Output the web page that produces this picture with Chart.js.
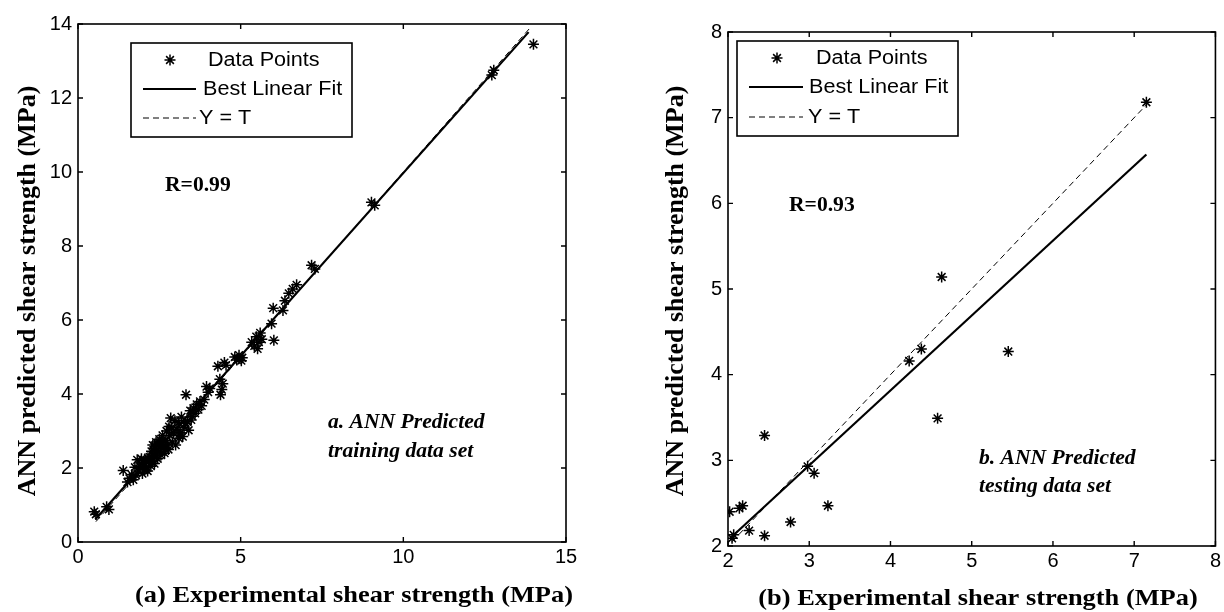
<!DOCTYPE html>
<html>
<head>
<meta charset="utf-8">
<title>ANN predicted vs experimental shear strength</title>
<script src="https://cdn.jsdelivr.net/npm/chart.js@4.4.1/dist/chart.umd.min.js"></script>
<style>
  html, body { margin: 0; padding: 0; background: #fff; }
  #wrap { position: relative; width: 1224px; height: 612px; }
  canvas { position: absolute; top: 0; }
  #chartA { left: 0; }
  #chartB { left: 612px; }
</style>
</head>
<body>
<div id="wrap">
  <canvas id="chartA" width="612" height="612"></canvas>
  <canvas id="chartB" width="612" height="612"></canvas>
</div>
<script>
// (a) training set: experimental vs ANN predicted shear strength (MPa)
const trainExp = [0.50,0.55,0.88,0.95,1.39,1.52,1.58,1.65,1.70,1.78,
  1.82,1.86,1.90,1.95,1.98,2.02,2.05,2.08,2.10,2.14,
  2.18,2.20,2.24,2.26,2.28,2.30,2.33,2.35,2.38,2.40,
  2.42,2.45,2.48,2.50,2.52,2.55,2.58,2.60,2.63,2.66,
  2.70,2.72,2.75,2.78,2.82,2.85,2.88,2.90,2.94,2.98,
  3.00,3.04,3.08,3.10,3.14,3.18,3.22,3.26,3.32,3.36,
  3.40,3.45,3.50,3.55,3.60,3.65,3.70,3.75,3.80,3.88,
  3.95,4.00,4.05,4.30,4.36,4.38,4.42,4.45,4.50,4.55,
  4.82,4.88,4.95,5.02,5.05,5.34,5.42,5.48,5.52,5.56,
  5.60,5.65,5.95,6.00,6.02,6.30,6.36,6.48,6.60,6.72,
  7.18,7.28,9.02,9.12,12.72,12.78,14.00,
  1.75,2.00,2.15,2.36,2.56,2.68,2.80,3.12,3.30,3.48];
const trainAnn = [0.82,0.75,0.95,0.88,1.93,1.62,1.72,1.82,1.68,1.80,
  2.22,1.92,2.05,2.25,1.85,2.12,1.95,2.20,2.02,1.92,
  2.15,2.30,2.05,2.45,2.18,2.62,2.30,2.12,2.52,2.70,
  2.38,2.25,2.60,2.78,2.45,2.35,2.68,2.88,2.55,2.40,
  2.75,3.00,2.62,2.50,2.88,3.35,3.10,2.70,2.95,3.28,
  2.62,3.05,3.22,2.80,2.95,3.38,2.85,3.10,3.98,3.25,
  3.02,3.55,3.40,3.62,3.48,3.72,3.58,3.80,3.68,3.85,
  4.20,4.05,4.15,4.75,4.40,3.98,4.12,4.28,4.85,4.78,
  5.00,4.92,5.05,4.90,4.98,5.40,5.30,5.55,5.22,5.40,
  5.65,5.48,5.90,6.32,5.45,6.26,6.52,6.72,6.84,6.95,
  7.48,7.38,9.18,9.10,12.62,12.75,13.45,
  2.02,2.15,2.28,2.58,2.72,2.50,3.12,2.92,3.20,3.30];
const trainFitX = [0.53, 13.85];
const trainFitY = [0.61, 13.78];
const trainIdealX = [0.55, 13.90];
const trainIdealY = [0.55, 13.90];
const trainXTicks = [0, 5, 10, 15];
const trainYTicks = [0, 2, 4, 6, 8, 10, 12, 14];

// (b) testing set
const testExp = [2.02,2.05,2.07,2.14,2.18,2.26,2.45,2.45,2.77,2.98,3.06,3.23,4.23,4.38,4.58,4.63,5.45,7.15];
const testAnn = [2.40,2.09,2.13,2.44,2.47,2.18,3.29,2.12,2.28,2.93,2.85,2.47,4.16,4.30,3.49,5.14,4.27,7.18];
const testFitX = [2.06, 7.15];
const testFitY = [2.12, 6.57];
const testIdealX = [2.05, 7.15];
const testIdealY = [2.05, 7.15];
const testTicks = [2, 3, 4, 5, 6, 7, 8];

const SANS = "'Liberation Sans', Arial, sans-serif";
const SERIF = "'Liberation Serif', 'Times New Roman', serif";

function pairs(xs, ys) {
    return xs.map((x, i) => ({ x, y: ys[i] }));
}

function starAt(ctx, x, y, r) {
    const opts = { pointStyle: "star", radius: r, rotation: 0, borderWidth: 1.5 };
    if (Chart.helpers && Chart.helpers.drawPoint) {
        Chart.helpers.drawPoint(ctx, opts, x, y);
        return;
    }
    ctx.beginPath();
    for (let k = 0; k < 4; k++) {
        const a = k * Math.PI / 4;
        ctx.moveTo(x - r * Math.cos(a), y - r * Math.sin(a));
        ctx.lineTo(x + r * Math.cos(a), y + r * Math.sin(a));
    }
    ctx.stroke();
}

// text drawn slightly wider than the font, like the exported figure
function wideText(ctx, str, x, y, font, sx, align) {
    ctx.save();
    ctx.font = font;
    ctx.translate(x, y);
    ctx.scale(sx, 1);
    ctx.textAlign = align || "left";
    ctx.textBaseline = "middle";
    ctx.fillText(str, 0, 0);
    ctx.restore();
}

// box, inner ticks on all four sides, legend and labels
const framePlugin = {
    id: "frame",
    afterDatasetsDraw(chart, args, o) {
        const { ctx, chartArea: a, scales } = chart;
        ctx.save();
        ctx.strokeStyle = "#000";
        ctx.lineWidth = 1.6;
        ctx.strokeRect(a.left, a.top, a.right - a.left, a.bottom - a.top);
        ctx.lineWidth = 1.4;
        ctx.beginPath();
        scales.x.ticks.forEach(t => {
            const px = scales.x.getPixelForValue(t.value);
            ctx.moveTo(px, a.bottom); ctx.lineTo(px, a.bottom - 5);
            ctx.moveTo(px, a.top); ctx.lineTo(px, a.top + 5);
        });
        scales.y.ticks.forEach(t => {
            const py = scales.y.getPixelForValue(t.value);
            ctx.moveTo(a.left, py); ctx.lineTo(a.left + 5, py);
            ctx.moveTo(a.right, py); ctx.lineTo(a.right - 5, py);
        });
        ctx.stroke();
        ctx.restore();
    },
    afterDraw(chart, args, o) {
        const ctx = chart.ctx;
        const L = o.legend;
        ctx.save();
        ctx.fillStyle = "#fff";
        ctx.fillRect(L.x, L.y, L.w, L.h);
        ctx.strokeStyle = "#000";
        ctx.lineWidth = 1.6;
        ctx.strokeRect(L.x, L.y, L.w, L.h);

        ctx.fillStyle = "#000";
        ctx.lineWidth = 1.5;
        starAt(ctx, L.markX, L.row1, 5.5);
        ctx.lineWidth = 2.2;
        ctx.beginPath();
        ctx.moveTo(L.lineX0, L.row2); ctx.lineTo(L.lineX1, L.row2);
        ctx.stroke();
        ctx.lineWidth = 1;
        ctx.setLineDash([6, 4]);
        ctx.beginPath();
        ctx.moveTo(L.lineX0, L.row3); ctx.lineTo(L.lineX1, L.row3);
        ctx.stroke();
        ctx.setLineDash([]);

        const lf = "20px " + SANS;
        wideText(ctx, "Data Points", L.text1, L.row1, lf, 1.08);
        wideText(ctx, "Best Linear Fit", L.text2, L.row2, lf, 1.08);
        wideText(ctx, "Y = T", L.text3, L.row3, lf, 1.08);

        o.notes.forEach(n => wideText(ctx, n.text, n.x, n.y, n.font, 1.08, n.align));

        // axis titles
        wideText(ctx, o.xTitle.text, o.xTitle.x, o.xTitle.y, "bold 24px " + SERIF, 1.1, "center");
        ctx.save();
        ctx.translate(o.yTitle.x, o.yTitle.y);
        ctx.rotate(-Math.PI / 2);
        ctx.font = "bold 26px " + SERIF;
        ctx.textAlign = "center";
        ctx.textBaseline = "middle";
        ctx.fillText(o.yTitle.text, 0, 0);
        ctx.restore();
        ctx.restore();
    }
};

function axis(min, max, ticks, fitSize, pad) {
    return {
        type: "linear",
        min, max,
        afterBuildTicks: s => { s.ticks = ticks.map(v => ({ value: v })); },
        afterFit: s => {
            if (s.isHorizontal()) s.height = fitSize; else s.width = fitSize;
        },
        grid: { display: false, drawTicks: false },
        border: { display: false },
        ticks: {
            color: "#000",
            padding: pad,
            autoSkip: false,
            maxRotation: 0,
            font: { family: SANS, size: 20 }
        }
    };
}

function buildChart(id, d) {
    return new Chart(document.getElementById(id), {
        type: "scatter",
        data: {
            datasets: [
                {
                    label: "Data Points",
                    data: pairs(d.xs, d.ys),
                    pointStyle: "star",
                    pointRadius: 5.5,
                    pointBorderWidth: 1.5,
                    borderColor: "#000",
                    backgroundColor: "#000",
                    showLine: false
                },
                {
                    label: "Best Linear Fit",
                    data: pairs(d.fitX, d.fitY),
                    showLine: true,
                    borderColor: "#000",
                    borderWidth: 2.2,
                    pointRadius: 0
                },
                {
                    label: "Y = T",
                    data: pairs(d.idX, d.idY),
                    showLine: true,
                    borderColor: "#000",
                    borderWidth: 1,
                    borderDash: [6, 4],
                    pointRadius: 0
                }
            ]
        },
        options: {
            responsive: false,
            animation: false,
            devicePixelRatio: 1,
            layout: { padding: d.padding },
            scales: {
                x: axis(d.xMin, d.xMax, d.xTicks, 30, 3),
                y: axis(d.yMin, d.yMax, d.yTicks, 50, 6)
            },
            plugins: {
                legend: { display: false },
                tooltip: { enabled: false },
                frame: d.frame
            }
        },
        plugins: [framePlugin]
    });
}

const boldNote = "bold 20px " + SERIF;
const italicNote = "italic bold 20px " + SERIF;

buildChart("chartA", {
    xs: trainExp, ys: trainAnn,
    fitX: trainFitX, fitY: trainFitY,
    idX: trainIdealX, idY: trainIdealY,
    xMin: 0, xMax: 15, yMin: 0, yMax: 14,
    xTicks: trainXTicks, yTicks: trainYTicks,
    padding: { left: 28, right: 46, top: 24, bottom: 40 },
    frame: {
        legend: { x: 131, y: 43, w: 221, h: 94, markX: 170, lineX0: 143, lineX1: 196,
                  text1: 208, text2: 203, text3: 199, row1: 60, row2: 89, row3: 118 },
        notes: [
            { text: "R=0.99", x: 165, y: 186, font: boldNote },
            { text: "a. ANN Predicted", x: 328, y: 423, font: italicNote },
            { text: "training data set", x: 328, y: 452, font: italicNote }
        ],
        xTitle: { text: "(a) Experimental shear strength (MPa)", x: 354, y: 596 },
        yTitle: { text: "ANN predicted shear strength (MPa)", x: 28, y: 291 }
    }
});

buildChart("chartB", {
    xs: testExp, ys: testAnn,
    fitX: testFitX, fitY: testFitY,
    idX: testIdealX, idY: testIdealY,
    xMin: 2, xMax: 8, yMin: 2, yMax: 8,
    xTicks: testTicks, yTicks: testTicks,
    padding: { left: 66, right: 8, top: 32, bottom: 36 },
    frame: {
        legend: { x: 125, y: 41, w: 221, h: 95, markX: 165, lineX0: 137, lineX1: 191,
                  text1: 204, text2: 197, text3: 196, row1: 58, row2: 87, row3: 117 },
        notes: [
            { text: "R=0.93", x: 177, y: 206, font: boldNote },
            { text: "b. ANN Predicted", x: 367, y: 459, font: italicNote },
            { text: "testing data set", x: 367, y: 487, font: italicNote }
        ],
        xTitle: { text: "(b) Experimental shear strength (MPa)", x: 366, y: 599 },
        yTitle: { text: "ANN predicted shear strength (MPa)", x: 64, y: 291 }
    }
});
</script>
</body>
</html>
